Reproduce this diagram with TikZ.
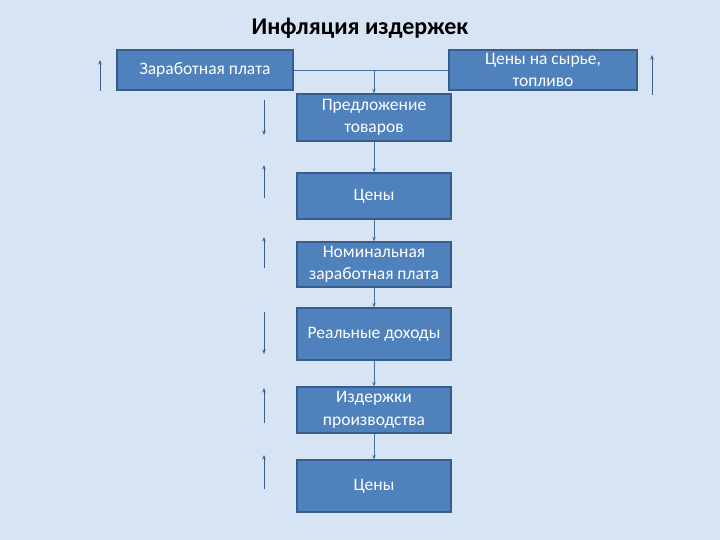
\documentclass[tikz,border=0pt]{standalone}
\usepackage{fontspec}
\setmainfont{Carlito}
\usetikzlibrary{arrows.meta,positioning}
\definecolor{slidebg}{RGB}{214,228,243}
\definecolor{boxfill}{RGB}{79,129,189}
\definecolor{boxline}{RGB}{56,93,138}
\definecolor{linkcol}{RGB}{70,108,160}
\tikzstyle{block} = [rectangle, draw=boxline, line width=1.2pt, fill=boxfill, text=white, align=center, inner sep=0pt, minimum width=154pt, font=\fontsize{17.5}{22.5}\selectfont]
\tikzstyle{link} = [draw=linkcol, line width=0.8pt, -{Stealth[length=4.5pt,width=3.5pt]}]
\tikzstyle{sidelink} = [draw=linkcol!85!black, line width=0.9pt, -{Stealth[length=4.5pt,width=3.5pt]}]

\begin{document}
\begin{tikzpicture}[x=1pt,y=-1pt]
  \fill[slidebg] (0,0) rectangle (720,540);
  \useasboundingbox (0,0) rectangle (720,540);

  \node (title) at (360,28) {\fontsize{24}{28}\selectfont\bfseries Инфляция издержек};

  % top row
  \node (wage)[block, minimum width=176pt, minimum height=40pt] at (205,70) {Заработная плата};
  \node (raw)[block, minimum width=188pt, minimum height=40pt] at (543,70) {Цены на сырье,\\топливо};

  % chain
  \node (supply)[block, minimum height=47pt] at (374,117.5) {Предложение\\товаров};
  \node (price1)[block, minimum height=46pt] at (374,196) {Цены};
  \node (nominal)[block, minimum height=45pt] at (374,264.5) {Номинальная\\заработная плата};
  \node (real)[block, minimum height=52pt] at (374,334) {Реальные доходы};
  \node (costs)[block, minimum height=46pt] at (374,410) {Издержки\\производства};
  \node (price2)[block, minimum height=52pt] at (374,486) {Цены};

  \draw[draw=linkcol, line width=0.8pt] (wage.east) -- (raw.west);
  \draw[link] (wage.east -| supply.north) -- (supply.north);
  \draw[link] (supply) -- (price1);
  \draw[link] (price1) -- (nominal);
  \draw[link] (nominal) -- (real);
  \draw[link] (real) -- (costs);
  \draw[link] (costs) -- (price2);

  % side arrows (up / down)
  \coordinate (w0) at (100,91);   \coordinate (w1) at (100,60);
  \coordinate (r0) at (652,95);   \coordinate (r1) at (652,55);
  \coordinate (s0) at (264,100);  \coordinate (s1) at (264,135);
  \coordinate (p0) at (264,198);  \coordinate (p1) at (264,165);
  \coordinate (n0) at (264,268);  \coordinate (n1) at (264,237);
  \coordinate (d0) at (264,312);  \coordinate (d1) at (264,354);
  \coordinate (c0) at (264,423);  \coordinate (c1) at (264,388);
  \coordinate (q0) at (264,489);  \coordinate (q1) at (264,455);
  \foreach \a in {w,r,s,p,n,d,c,q}
    \draw[sidelink] (\a0) -- (\a1);
\end{tikzpicture}
\end{document}
